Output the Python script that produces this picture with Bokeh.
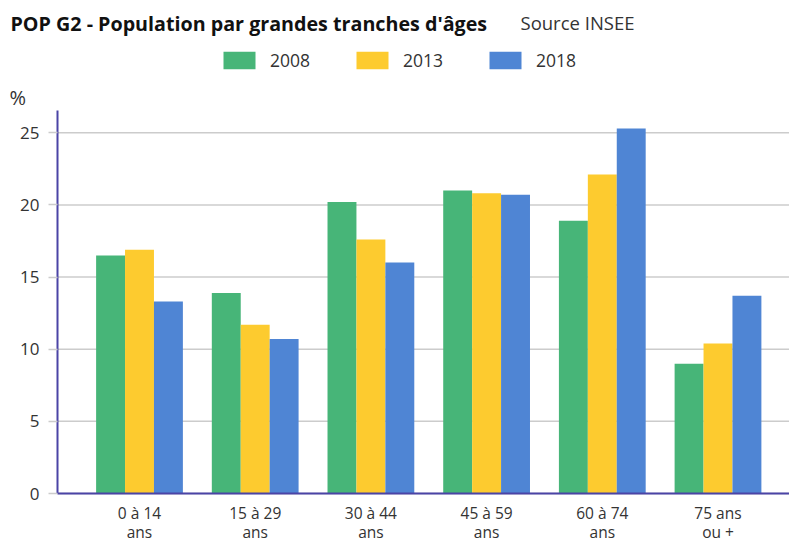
import numpy as np
from bokeh.plotting import figure
from bokeh.models import (ColumnDataSource, Label, Legend, LegendItem,
                          FixedTicker, Range1d)
from bokeh.transform import dodge
from bokeh.embed import file_html
from bokeh.resources import INLINE

# ---------------- data ----------------
categories = ["0 à 14\nans", "15 à 29\nans", "30 à 44\nans",
              "45 à 59\nans", "60 à 74\nans", "75 ans\nou +"]
years = ["2008", "2013", "2018"]
v2008 = [16.5, 13.9, 20.2, 21.0, 18.9, 9.0]
v2013 = [16.9, 11.7, 17.6, 20.8, 22.1, 10.4]
v2018 = [13.3, 10.7, 16.0, 20.7, 25.3, 13.7]
y_ticks = [0, 5, 10, 15, 20, 25]
title_text = "POP G2 - Population par grandes tranches d'âges"
source_text = "Source INSEE"
unit_text = "%"

colors = ["#47B578", "#FDCB2F", "#4F85D4"]
AXIS_COLOR = "#4B44A6"
GRID_COLOR = "#cccccc"
TEXT_COLOR = "#333333"
FONT = "Open Sans"

W, H = 789, 543
ZERO_PX = 493               # pixel row of the x axis (value 0)
X0_PX, X_STEP = 139.0, 115.7  # first category centre / category spacing (px)
Y_PX_PER_UNIT = 14.43
AXIS_PX = 57.0              # pixel column of the y axis


def px2x(ix):
    return (ix - X0_PX) / X_STEP


def px2y(iy):
    return (ZERO_PX - iy) / Y_PX_PER_UNIT


x_start, x_end = px2x(0), px2x(W)
y_start, y_end = px2y(H), px2y(0)
axis_x = px2x(AXIS_PX)
y_axis_top = px2y(110)

source = ColumnDataSource(dict(
    x=list(range(len(categories))),
    v2008=v2008, v2013=v2013, v2018=v2018,
))

p = figure(width=W, height=H, output_backend="svg", toolbar_location=None,
           x_range=Range1d(x_start, x_end), y_range=Range1d(y_start, y_end),
           min_border_left=0, min_border_right=0,
           min_border_top=0, min_border_bottom=0)
p.outline_line_color = None
p.background_fill_color = "white"
p.border_fill_color = "white"

# horizontal grid lines starting at the y axis
p.xgrid.grid_line_color = None
p.ygrid.grid_line_color = None
p.segment(x0=[axis_x] * len(y_ticks), y0=y_ticks,
          x1=[x_end] * len(y_ticks), y1=y_ticks,
          line_color=GRID_COLOR, line_width=1.5, level="underlay")

renderers = []
for off, col, key in zip([-0.25, 0.0, 0.25], colors, ["v2008", "v2013", "v2018"]):
    r = p.vbar(x=dodge("x", off, range=p.x_range), top=key, bottom=0, width=0.25,
               source=source, fill_color=col, line_color=None)
    renderers.append(r)

# y axis drawn at a fixed data location inside the frame
p.yaxis.fixed_location = axis_x
p.yaxis.bounds = (0, y_axis_top)
p.yaxis.ticker = FixedTicker(ticks=y_ticks)
p.yaxis.axis_line_color = AXIS_COLOR
p.yaxis.axis_line_width = 2
p.yaxis.major_tick_line_color = GRID_COLOR
p.yaxis.major_tick_line_width = 1.5
p.yaxis.major_tick_out = 9
p.yaxis.major_tick_in = 0
p.yaxis.minor_tick_line_color = None
p.yaxis.major_label_standoff = 9
p.yaxis.major_label_text_font = FONT
p.yaxis.major_label_text_font_size = "17px"
p.yaxis.major_label_text_color = TEXT_COLOR

# x axis drawn at value 0
p.xaxis.fixed_location = 0
p.xaxis.ticker = FixedTicker(ticks=list(range(len(categories))))
p.xaxis.major_label_overrides = {i: c for i, c in enumerate(categories)}
p.xaxis.bounds = (axis_x, x_end)
p.xaxis.axis_line_color = AXIS_COLOR
p.xaxis.axis_line_width = 2
p.xaxis.major_tick_line_color = None
p.xaxis.minor_tick_line_color = None
p.xaxis.major_label_standoff = 2
p.xaxis.major_label_text_font = FONT
p.xaxis.major_label_text_font_size = "15.5px"
p.xaxis.major_label_text_line_height = 0.88
p.xaxis.major_label_text_color = TEXT_COLOR

p.add_layout(Label(x=px2x(10), y=px2y(22.5), text=title_text,
                   text_font=FONT, text_font_style="bold",
                   text_font_size="19.7px", text_color="#111111",
                   text_align="left", text_baseline="middle"))
p.add_layout(Label(x=px2x(520), y=px2y(22), text=source_text,
                   text_font=FONT, text_font_size="18.5px",
                   text_color=TEXT_COLOR,
                   text_align="left", text_baseline="middle"))
p.add_layout(Label(x=px2x(9), y=px2y(97), text=unit_text,
                   text_font=FONT, text_font_size="20px",
                   text_color=TEXT_COLOR,
                   text_align="left", text_baseline="middle"))

legend = Legend(items=[LegendItem(label=y, renderers=[r]) for y, r in zip(years, renderers)],
                orientation="horizontal", location=(219, H - 72),
                glyph_width=40, glyph_height=22, label_standoff=11, spacing=42,
                padding=0, margin=0, border_line_color=None,
                background_fill_alpha=0,
                label_text_font=FONT, label_text_font_size="17.5px",
                label_text_color=TEXT_COLOR)
p.add_layout(legend)

open("out.html", "w").write(file_html(p, INLINE))
